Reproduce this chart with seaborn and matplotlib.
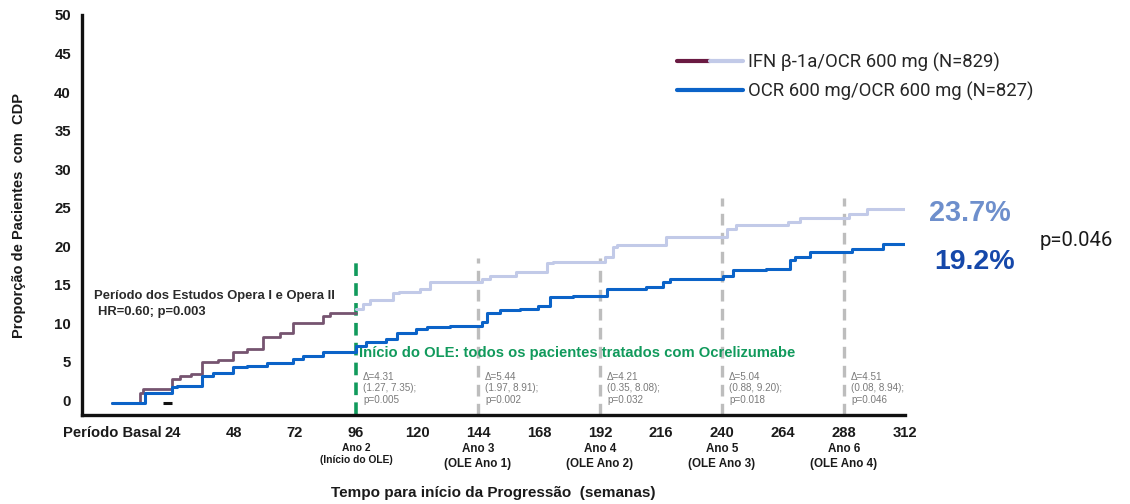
import matplotlib
matplotlib.use("Agg")
import matplotlib.pyplot as plt
from matplotlib.lines import Line2D
from matplotlib.legend_handler import HandlerTuple
import matplotlib.transforms as mtransforms
import seaborn as sns

sns.set_theme(style="white")
plt.rcParams["font.family"] = ["Liberation Sans", "DejaVu Sans"]

# Cumulative proportion of patients with CDP (%), Kaplan-Meier style steps
ifn_weeks = [0, 11, 12.3, 23.5, 26.7, 31, 35.5, 41.8, 47.7, 53, 59.5, 66, 71.3, 83, 85.8, 96]
ifn_vals = [-0.4, 0.9, 1.5, 2.8, 3.1, 3.4, 5.0, 5.2, 6.3, 6.7, 8.2, 8.7, 10.0, 11.0, 11.3, 11.3]

switch_weeks = [96, 98.7, 101.5, 110.5, 113, 121, 125, 145.4, 148.7, 159, 171, 173.5,
                194, 197, 198.5, 218, 241.8, 245.7, 266, 270.6, 290, 296.9, 312]
switch_vals = [11.9, 12.5, 13.0, 13.9, 14.0, 14.5, 15.4, 15.8, 16.1, 16.7, 17.8, 18.0,
               18.6, 19.9, 20.1, 21.2, 22.2, 22.8, 23.2, 23.7, 24.2, 24.8, 24.8]

ocr_weeks = [0, 13, 23.5, 25.4, 35.5, 39.8, 47.7, 53, 60.9, 71.3, 75.2, 83, 96, 100, 108,
             112, 119.8, 123.8, 133, 145.4, 147.4, 152.6, 160.5, 167.7, 172.3, 181.4,
             194.6, 210, 216.9, 219.5, 240.4, 244.3, 257.5, 266.7, 268.7, 274.6, 291,
             303.4, 312]
ocr_vals = [-0.4, 0.9, 1.7, 1.9, 3.2, 3.5, 4.3, 4.5, 4.8, 5.4, 5.7, 6.3, 7.1, 7.6, 8.0,
            8.7, 9.3, 9.5, 9.7, 10.2, 11.3, 11.7, 11.9, 12.3, 13.4, 13.6,
            14.5, 14.7, 15.4, 15.8, 16.2, 16.9, 17.1, 18.2, 18.6, 19.2, 19.7,
            20.3, 20.3]

x_ticks = [0, 24, 48, 72, 96, 120, 144, 168, 192, 216, 240, 264, 288, 312]
x_tick_labels = ["Período Basal", "24", "48", "72", "96", "120", "144", "168",
                 "192", "216", "240", "264", "288", "312"]
y_ticks = [0, 5, 10, 15, 20, 25, 30, 35, 40, 45, 50]

year_weeks = [96, 144, 192, 240, 288]
year_labels = ["Ano 2\n(Início do OLE)", "Ano 3\n(OLE Ano 1)", "Ano 4\n(OLE Ano 2)",
               "Ano 5\n(OLE Ano 3)", "Ano 6\n(OLE Ano 4)"]
delta_labels = ["Δ=4.31\n(1.27, 7.35);\np=0.005", "Δ=5.44\n(1.97, 8.91);\np=0.002",
                "Δ=4.21\n(0.35, 8.08);\np=0.032", "Δ=5.04\n(0.88, 9.20);\np=0.018",
                "Δ=4.51\n(0.08, 8.94);\np=0.046"]
marker_tops = [18.5, 18.5, 18.5, 26.2, 26.2]

C_IFN = "#765470"
C_IFN_LEG = "#6a1a42"
C_SWITCH = "#c2cae8"
C_OCR = "#0b63c8"
C_GREEN = "#119a5c"
C_GRAY = "#bdbdbd"

fig = plt.figure(figsize=(11.3, 5.04), dpi=100)
ax = fig.add_axes([82 / 1130, 1 - 415 / 504, (905 - 82) / 1130, (415 - 15) / 504])

# Period markers
ax.vlines(year_weeks[0], -1.9, marker_tops[0], colors=C_GREEN, lw=2.6,
          linestyles=(0, (3.5, 2)), zorder=2)
for wk, top in zip(year_weeks[1:], marker_tops[1:]):
    ax.vlines(wk, -1.9, top, colors=C_GRAY, lw=2.4, linestyles=(0, (3.5, 2.2)), zorder=1)

sns.lineplot(x=ifn_weeks, y=ifn_vals, drawstyle="steps-post", color=C_IFN, lw=2.0,
             estimator=None, ax=ax, zorder=3)
sns.lineplot(x=switch_weeks, y=switch_vals, drawstyle="steps-post", color=C_SWITCH, lw=2.2,
             estimator=None, ax=ax, zorder=3)
sns.lineplot(x=ocr_weeks, y=ocr_vals, drawstyle="steps-post", color=C_OCR, lw=2.2,
             estimator=None, ax=ax, zorder=4)
ax.plot([20.2, 23.5], [-0.35, -0.35], color="#111111", lw=2.2, solid_capstyle="butt")

ax.set_xlim(-11.8, 312)
ax.set_ylim(-1.9, 50)
ax.set_xticks(x_ticks)
ax.set_xticklabels(x_tick_labels, fontsize=10.6, fontweight="bold", color="#1a1a1a")
ax.set_yticks(y_ticks)
ax.set_yticklabels([str(v) for v in y_ticks], fontsize=10.8, fontweight="bold", color="#1a1a1a")
ax.tick_params(axis="both", direction="out", length=5, width=2.2, color="#111111", pad=3)
for side in ["top", "right"]:
    ax.spines[side].set_visible(False)
for side in ["left", "bottom"]:
    ax.spines[side].set_linewidth(2.4)
    ax.spines[side].set_color("#111111")
ax.spines["left"].set_bounds(-1.9, 50)
ax.grid(False)

ax.set_xlabel("Tempo para início da Progressão  (semanas)", fontsize=11,
              fontweight="bold", color="#1a1a1a", labelpad=33)
ax.set_ylabel("Proporção de Pacientes  com  CDP", fontsize=10.5, fontweight="bold",
              color="#1a1a1a", labelpad=20)

# Year sub-labels under the ticks
trans = mtransforms.blended_transform_factory(ax.transData, fig.transFigure)
for i, (wk, lab) in enumerate(zip(year_weeks, year_labels)):
    ax.text(wk, 1 - 443 / 504, lab, transform=trans, ha="center", va="top",
            fontsize=7.4 if i == 0 else 8.4, fontweight="bold", color="#1a1a1a",
            linespacing=1.3)

# Difference annotations at each year
for wk, lab in zip(year_weeks, delta_labels):
    ax.text(wk + 2.8, 3.7, lab, ha="left", va="top", fontsize=7.1, color="#7a7a7a",
            linespacing=1.2)

ax.text(-7, 13.6, "Período dos Estudos Opera I e Opera II", fontsize=9.4,
        fontweight="bold", color="#2a2a2a", ha="left", va="center")
ax.text(-5.5, 11.4, "HR=0.60; p=0.003", fontsize=9.4, fontweight="bold",
        color="#2a2a2a", ha="left", va="center")
ax.text(97, 6.2, "Início do OLE: todos os pacientes tratados com Ocrelizumabe",
        fontsize=10.6, fontweight="bold", color=C_GREEN, ha="left", va="center")

# End-of-follow-up rates
fig.text(929 / 1130, 1 - 213 / 504, "23.7%", fontsize=20.8, fontweight="bold",
         color="#6e8fcc", ha="left", va="center")
fig.text(934 / 1130, 1 - 262 / 504, "19.2%", fontsize=20.5, fontweight="bold",
         color="#1548aa", ha="left", va="center")
fig.text(1040 / 1130, 1 - 240 / 504, "p=0.046", fontsize=14.6, color="#1a1a1a",
         ha="left", va="center", family=["Roboto", "DejaVu Sans"])

# Legend
h_ifn_a = Line2D([], [], color=C_IFN_LEG, lw=3)
h_ifn_b = Line2D([], [], color=C_SWITCH, lw=3)
h_ocr = Line2D([], [], color=C_OCR, lw=3)
fig.legend([(h_ifn_a, h_ifn_b), h_ocr],
           ["IFN β-1a/OCR 600 mg (N=829)", "OCR 600 mg/OCR 600 mg (N=827)"],
           handler_map={tuple: HandlerTuple(ndivide=None, pad=0)},
           loc="upper left", bbox_to_anchor=(660 / 1130, 1 - 36 / 504),
           frameon=False, handlelength=3.6, handletextpad=0.25, labelspacing=0.55,
           prop={"family": ["Roboto", "DejaVu Sans"], "size": 13.3})

fig.savefig("out.png", dpi=100, facecolor="white")
